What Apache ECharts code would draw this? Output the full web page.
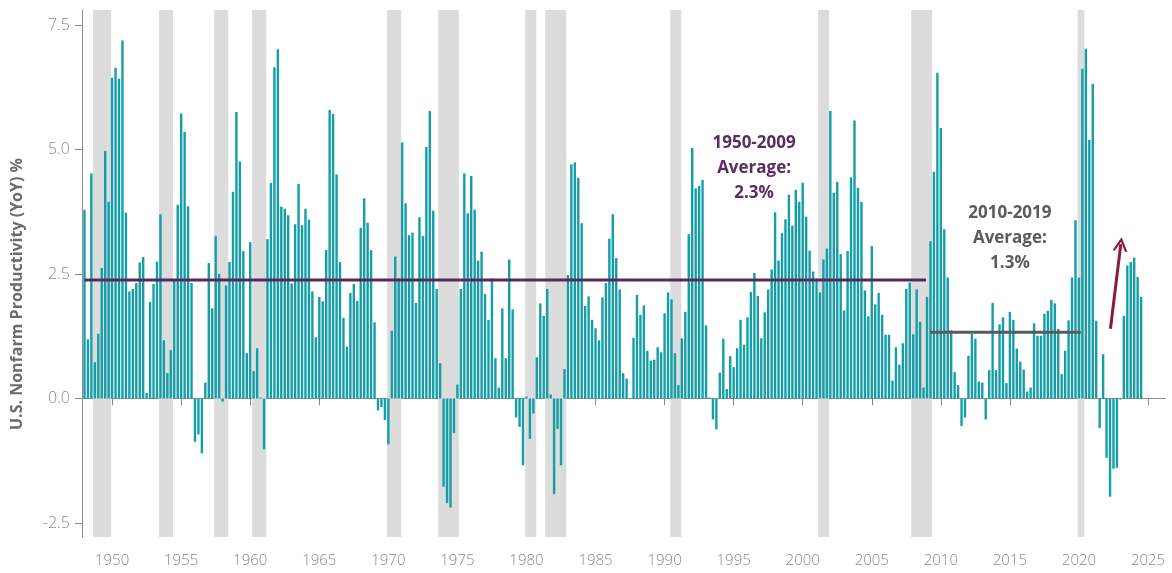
<!DOCTYPE html>
<html>
<head>
<meta charset="utf-8">
<script src="https://cdn.jsdelivr.net/npm/echarts@6/dist/echarts.min.js"></script>
<style>
  html, body { margin: 0; padding: 0; background: #ffffff; }
  #chart { width: 1172px; height: 573px; }
</style>
</head>
<body>
<div id="chart"></div>
<script>
// ---------------- DATA ----------------
const startYear = 1948;           // first quarter: 1948 Q1
const productivity = [
  // 1948
  3.79, 1.19, 4.52, 0.73,
  // 1949
  1.30, 2.62, 4.97, 3.95,
  // 1950
  6.44, 6.64, 6.42, 7.19,
  // 1951
  3.73, 2.15, 2.20, 2.32,
  // 1952
  2.73, 2.84, 0.11, 1.94,
  // 1953
  2.30, 2.75, 3.70, 1.17,
  // 1954
  0.51, 0.97, 2.37, 3.89,
  // 1955
  5.72, 5.35, 3.86, 2.32,
  // 1956
  -0.87, -0.72, -1.10, 0.32,
  // 1957
  2.72, 1.81, 3.26, 2.50,
  // 1958
  -0.06, 2.27, 2.74, 4.15,
  // 1959
  5.75, 4.76, 2.96, 0.91,
  // 1960
  3.14, 0.55, 1.01, 0.02,
  // 1961
  -1.02, 3.20, 4.33, 6.65,
  // 1962
  7.01, 3.85, 3.81, 3.68,
  // 1963
  2.31, 3.50, 4.31, 3.48,
  // 1964
  3.81, 3.59, 2.15, 1.23,
  // 1965
  2.04, 1.95, 2.98, 5.79,
  // 1966
  5.71, 4.50, 2.74, 1.62,
  // 1967
  1.04, 2.12, 2.30, 1.96,
  // 1968
  3.43, 4.02, 3.53, 2.98,
  // 1969
  1.53, -0.24, -0.17, -0.43,
  // 1970
  -0.92, 1.36, 2.85, 2.41,
  // 1971
  5.14, 3.92, 3.28, 3.33,
  // 1972
  1.92, 3.64, 3.26, 5.05,
  // 1973
  5.77, 3.77, 2.20, 0.71,
  // 1974
  -1.77, -2.10, -2.19, -0.69,
  // 1975
  0.28, 2.20, 4.52, 3.72,
  // 1976
  4.47, 3.79, 2.77, 2.95,
  // 1977
  2.10, 1.58, 2.41, 0.81,
  // 1978
  0.22, 1.81, 0.81, 2.79,
  // 1979
  1.79, -0.38, -0.57, -1.34,
  // 1980
  0.04, -0.81, -0.30, 0.83,
  // 1981
  1.91, 1.66, 2.20, 0.08,
  // 1982
  -1.92, -0.61, -1.34, 0.59,
  // 1983
  2.48, 4.70, 4.74, 4.43,
  // 1984
  3.52, 1.86, 2.05, 1.58,
  // 1985
  1.41, 1.17, 2.03, 2.32,
  // 1986
  3.21, 3.70, 2.82, 2.19,
  // 1987
  0.51, 0.40, 0.01, 1.22,
  // 1988
  2.08, 1.68, 1.87, 0.96,
  // 1989
  0.76, 0.78, 1.03, 0.93,
  // 1990
  1.71, 2.13, 1.99, 0.91,
  // 1991
  0.27, 1.21, 1.74, 3.30,
  // 1992
  5.03, 4.22, 4.27, 4.39,
  // 1993
  1.47, 0.02, -0.42, -0.62,
  // 1994
  0.52, 1.20, 0.19, 0.85,
  // 1995
  0.63, 1.01, 1.58, 1.08,
  // 1996
  1.63, 2.14, 2.52, 2.06,
  // 1997
  1.21, 1.73, 2.19, 2.59,
  // 1998
  3.74, 2.77, 3.32, 3.60,
  // 1999
  4.09, 3.47, 4.19, 3.95,
  // 2000
  4.33, 3.65, 2.97, 2.55,
  // 2001
  2.41, 2.13, 2.79, 3.01,
  // 2002
  5.77, 4.13, 4.35, 2.90,
  // 2003
  1.77, 2.96, 4.44, 5.58,
  // 2004
  4.23, 3.95, 2.17, 1.65,
  // 2005
  3.06, 1.89, 2.12, 1.68,
  // 2006
  1.28, 1.28, 0.36, 1.03,
  // 2007
  0.68, 1.11, 2.20, 2.33,
  // 2008
  1.29, 2.19, 1.54, 0.22,
  // 2009
  2.04, 3.16, 4.55, 6.54,
  // 2010
  5.43, 3.40, 2.43, 1.37,
  // 2011
  0.53, 0.27, -0.55, -0.38,
  // 2012
  0.86, 1.30, 1.20, 0.34,
  // 2013
  0.32, -0.42, 0.57, 1.92,
  // 2014
  0.57, 1.49, 1.63, 0.31,
  // 2015
  1.74, 1.58, 1.00, 0.74,
  // 2016
  0.58, 0.14, 0.22, 1.51,
  // 2017
  1.26, 1.26, 1.70, 1.76,
  // 2018
  1.98, 1.91, 1.40, 0.49,
  // 2019
  0.96, 1.57, 2.43, 3.58,
  // 2020
  2.43, 6.62, 7.02, 5.19,
  // 2021
  6.32, 1.56, -0.59, 0.89,
  // 2022
  -1.19, -1.97, -1.41, -1.39,
  // 2023
  -0.02, 1.66, 2.67, 2.74,
  // 2024
  2.83, 2.44, 2.04
];

// Recession shading (decimal years, as drawn in the reference)
const recessionStarts = [1948.62, 1953.40, 1957.39, 1960.14, 1969.91, 1973.61, 1979.91, 1981.36, 1990.41, 2001.12, 2007.85, 2019.90];
const recessionEnds   = [1949.93, 1954.41, 1958.41, 1961.16, 1970.93, 1975.11, 1980.71, 1982.88, 1991.21, 2001.91, 2009.37, 2020.39];

// Period averages
const avgLong  = { from: 1948.0,  to: 2008.93, value: 2.38 };
const avgShort = { from: 2009.22, to: 2020.13, value: 1.33 };

// Arrow (data coordinates)
const arrowFrom = [2022.28, 1.40];
const arrowTo   = [2023.03, 3.10];

// Tick labels
const xTickLabels = [1950, 1955, 1960, 1965, 1970, 1975, 1980, 1985, 1990, 1995, 2000, 2005, 2010, 2015, 2020, 2025];
const yTickLabels = [-2.5, 0, 2.5, 5, 7.5];

const yAxisTitle = 'U.S. Nonfarm Productivity (YoY) %';
const noteLong  = ['1950-2009', 'Average:', '2.3%'];
const noteShort = ['2010-2019', 'Average:', '1.3%'];
const noteLongAnchor  = [1996.48, 4.63];
const noteShortAnchor = [2015.0, 3.22];

// ---------------- CHART ----------------
const FONT = '"Open Sans", "Segoe UI", sans-serif';
const chart = echarts.init(document.getElementById('chart'), null, { renderer: 'canvas' });

const barData = productivity.map((v, i) => [startYear + i / 4, v]);
const recessionAreas = recessionStarts.map((s, k) => [{ xAxis: s }, { xAxis: recessionEnds[k] }]);

chart.setOption({
  animation: false,
  backgroundColor: '#ffffff',
  grid: { left: 82, right: 7, top: 10, bottom: 36 },
  xAxis: {
    type: 'value',
    min: 1947.82,
    max: 2026.23,
    axisLine: { show: true, lineStyle: { color: '#8c8c8c', width: 1 } },
    axisTick: { show: true, length: 7, lineStyle: { color: '#8c8c8c' }, customValues: xTickLabels },
    axisLabel: {
      customValues: xTickLabels,
      formatter: v => String(Math.round(v)),
      color: '#8a8a8a', fontSize: 15, fontFamily: FONT, fontWeight: 300, margin: 16
    },
    splitLine: { show: false }
  },
  yAxis: {
    type: 'value',
    min: -2.78,
    max: 7.8,
    axisLine: { show: true, lineStyle: { color: '#8c8c8c', width: 1 } },
    axisTick: { show: true, length: 7, lineStyle: { color: '#8c8c8c' }, customValues: yTickLabels },
    axisLabel: {
      customValues: yTickLabels,
      formatter: v => v.toFixed(1),
      color: '#8a8a8a', fontSize: 16, fontFamily: FONT, fontWeight: 300, margin: 12
    },
    splitLine: { show: false }
  },
  series: [
    {
      name: 'recessions',
      type: 'line',
      data: [],
      z: 1,
      silent: true,
      markArea: {
        silent: true,
        itemStyle: { color: '#dcdcdc' },
        data: recessionAreas
      }
    },
    {
      name: 'Productivity',
      type: 'bar',
      data: barData,
      barWidth: 2.4,
      z: 2,
      itemStyle: { color: '#139ea8' }
    },
    {
      name: 'avgLong',
      type: 'line',
      data: [[avgLong.from, avgLong.value], [avgLong.to, avgLong.value]],
      symbol: 'none',
      z: 3,
      lineStyle: { color: '#562b5c', width: 3 }
    },
    {
      name: 'avgShort',
      type: 'line',
      data: [[avgShort.from, avgShort.value], [avgShort.to, avgShort.value]],
      symbol: 'none',
      z: 3,
      lineStyle: { color: '#5a5a5a', width: 3 }
    },
    {
      name: 'arrow',
      type: 'line',
      data: [],
      z: 4,
      markLine: {
        silent: true,
        symbol: ['none', 'path://M0,12 L6,0 L12,12 L10,12 L6,4 L2,12 Z'],
        symbolSize: [15, 14],
        label: { show: false },
        lineStyle: { color: '#8b1a3d', width: 3, type: 'solid' },
        data: [[{ coord: arrowFrom }, { coord: arrowTo }]]
      }
    }
  ]
});

function noteGraphic(lines, anchor, color) {
  const p = chart.convertToPixel({ xAxisIndex: 0, yAxisIndex: 0 }, anchor);
  return {
    type: 'text',
    x: p[0],
    y: p[1],
    z: 10,
    style: {
      text: lines.join('\n'),
      fill: color,
      font: 'bold 17px ' + FONT,
      lineHeight: 25,
      align: 'center',
      verticalAlign: 'middle'
    }
  };
}

chart.setOption({
  graphic: [
    {
      type: 'text',
      x: 17,
      y: 294,
      rotation: Math.PI / 2,
      style: {
        text: yAxisTitle,
        fill: '#6b6b6b',
        font: 'bold 16px ' + FONT,
        align: 'center',
        verticalAlign: 'middle'
      }
    },
    noteGraphic(noteLong, noteLongAnchor, '#5a2d61'),
    noteGraphic(noteShort, noteShortAnchor, '#5b5b5b')
  ]
});
</script>
</body>
</html>
